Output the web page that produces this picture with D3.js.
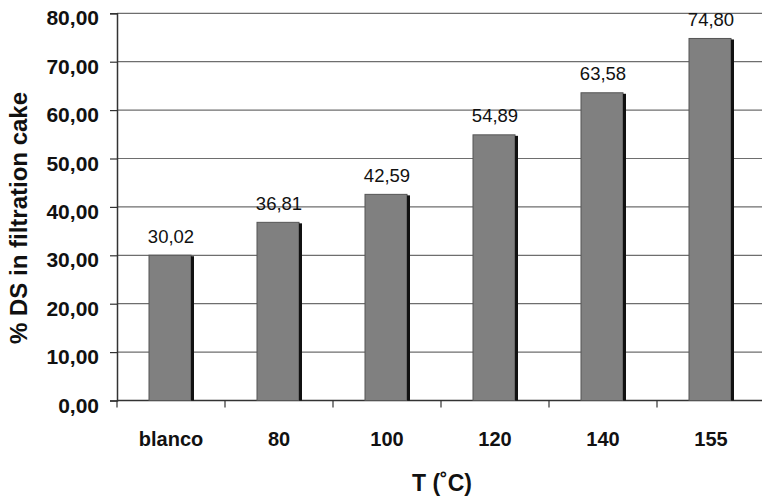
<!DOCTYPE html>
<html><head><meta charset="utf-8">
<script src="https://cdn.jsdelivr.net/npm/d3@7"></script>
<style>body{margin:0;background:#fff}svg{display:block;font-family:"Liberation Sans",Arial,sans-serif}</style>
</head><body><svg id="c" width="762" height="500"></svg>
<script>
const categories = ["blanco","80","100","120","140","155"];
const values = [30.02,36.81,42.59,54.89,63.58,74.80];
const yTicks = [0,10,20,30,40,50,60,70,80];

const svg = d3.select("#c");
const L = 117, T = 13.3, B = 400.5;
const x = d3.scaleBand().domain(categories).range([L, L + 108 * categories.length]);
const y = d3.scaleLinear().domain([0,80]).range([B, T]);
const fmt = v => d3.format(".2f")(v).replace(".", ",");

// gridlines
svg.append("g").selectAll("line").data(yTicks.slice(1)).join("line")
  .attr("x1", L).attr("x2", 762).attr("y1", d => y(d)).attr("y2", d => y(d))
  .attr("stroke", "#6e6e6e").attr("stroke-width", 1.2);

// y axis
const ya = svg.append("g").attr("transform", `translate(${L},0)`)
  .call(d3.axisLeft(y).tickValues(yTicks).tickFormat(fmt).tickSize(7).tickPadding(11));
ya.select(".domain").attr("stroke", "#333").attr("stroke-width", 1.5);
ya.selectAll(".tick line").attr("stroke", "#333").attr("stroke-width", 1.2);
ya.selectAll("text").attr("font-size", 21).attr("font-weight", "bold").attr("fill", "#111")
  .attr("dy", "0.55em");

// x axis
const xa = svg.append("g").attr("transform", `translate(0,${B})`);
xa.append("line").attr("x1", L).attr("x2", 762).attr("y1", 0).attr("y2", 0).attr("stroke", "#333").attr("stroke-width", 1.5);
xa.selectAll("line.t").data(categories).join("line").attr("class","t")
  .attr("x1", d => x(d)).attr("x2", d => x(d)).attr("y1", 0).attr("y2", 7)
  .attr("stroke", "#333").attr("stroke-width", 1.2);
xa.selectAll("text").data(categories).join("text")
  .attr("x", d => x(d) + x.bandwidth() / 2).attr("y", 45.5).attr("text-anchor", "middle")
  .attr("font-size", 20).attr("font-weight", "bold").attr("fill", "#111").text(d => d);

// bars
const bw = 42;
const bars = svg.append("g").selectAll("g").data(categories).join("g");
bars.append("rect")
  .attr("x", d => x(d) + x.bandwidth() / 2 - 22).attr("width", bw)
  .attr("y", (d,i) => y(values[i])).attr("height", (d,i) => B - y(values[i]))
  .attr("fill", "#808080").attr("stroke", "#555").attr("stroke-width", 1);
bars.append("rect")
  .attr("x", d => x(d) + x.bandwidth() / 2 - 22 + bw).attr("width", 3)
  .attr("y", (d,i) => y(values[i]) + 1).attr("height", (d,i) => B - y(values[i]) - 1)
  .attr("fill", "#111");
bars.append("text")
  .attr("x", d => x(d) + x.bandwidth() / 2).attr("y", (d,i) => y(values[i]) - 12.5)
  .attr("text-anchor", "middle").attr("font-size", 18.5).attr("fill", "#111")
  .text((d,i) => fmt(values[i]));

// axis titles
svg.append("text").attr("transform", "translate(27,218) rotate(-90)").attr("text-anchor", "middle")
  .attr("font-size", 24).attr("font-weight", "bold").attr("fill", "#111").text("% DS in filtration cake");
svg.append("text").attr("x", 442).attr("y", 491).attr("text-anchor", "middle")
  .attr("font-size", 23).attr("font-weight", "bold").attr("fill", "#111").text("T (˚C)");
</script></body></html>
